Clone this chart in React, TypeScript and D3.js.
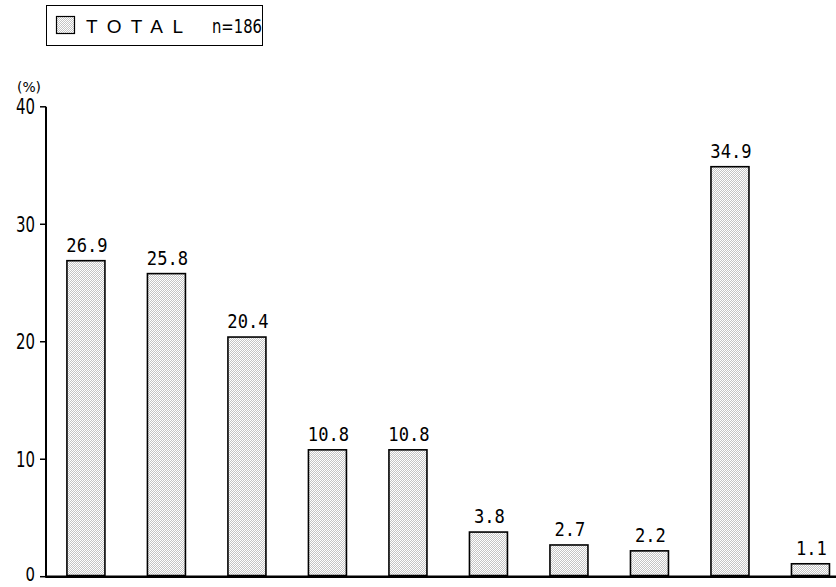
import React from "react";
import * as d3 from "d3";

const categories = ["c1", "c2", "c3", "c4", "c5", "c6", "c7", "c8", "c9", "c10"];
const values = [26.9, 25.8, 20.4, 10.8, 10.8, 3.8, 2.7, 2.2, 34.9, 1.1];
const valueLabels = ["26.9", "25.8", "20.4", "10.8", "10.8", "3.8", "2.7", "2.2", "34.9", "1.1"];
const yTicks = [0, 10, 20, 30, 40];
const legendLabel = "TOTAL";
const legendN = "n=186";
const yUnit = "(%)";

const W = 836;
const H = 587;

export default function App() {
  const y = d3.scaleLinear().domain([0, 40]).range([576.7, 106.8]);
  const x = d3
    .scaleBand<string>()
    .domain(categories)
    .range([46, 850.4])
    .paddingInner(0.528)
    .paddingOuter(0.26);
  const bw = x.bandwidth();
  const axisX = 46;
  const numFont = "'DejaVu Sans Mono', monospace";
  const tickFont = "'DejaVu Sans', sans-serif";

  return (
    <svg
      width={W}
      height={H}
      style={{ position: "absolute", left: 0, top: 0, background: "#fff" }}
    >
      <defs>
        <pattern id="chk" width="2" height="2" patternUnits="userSpaceOnUse">
          <rect width="2" height="2" fill="#ffffff" />
          <rect x="1" y="0" width="1" height="1" fill="#c4c4c4" />
          <rect x="0" y="1" width="1" height="1" fill="#c4c4c4" />
        </pattern>
      </defs>

      {/* legend */}
      <rect x={46.5} y={5.5} width={216} height={40} fill="#fff" stroke="#000" strokeWidth={1} />
      <rect x={56.5} y={16.5} width={18} height={17} fill="url(#chk)" stroke="#000" strokeWidth={1.2} />
      <text
        x={86}
        y={33}
        fontFamily="'Liberation Sans', Arial, sans-serif"
        fontSize={19}
        textLength={97}
        lengthAdjust="spacing"
        fill="#000"
      >
        {legendLabel}
      </text>
      <text
        x={212}
        y={33}
        fontFamily={tickFont}
        fontSize={20}
        textLength={50}
        lengthAdjust="spacingAndGlyphs"
        fill="#000"
      >
        {legendN}
      </text>

      {/* y unit */}
      <text
        x={29}
        y={92}
        textAnchor="middle"
        fontFamily={tickFont}
        fontSize={14}
        textLength={24}
        lengthAdjust="spacingAndGlyphs"
        fill="#000"
      >
        {yUnit}
      </text>

      {/* bars */}
      {values.map((v, i) => {
        const x0 = x(categories[i])!;
        const yt = y(v);
        return (
          <g key={categories[i]}>
            <rect
              x={x0}
              y={yt}
              width={bw}
              height={y(0) - yt}
              fill="url(#chk)"
              stroke="#000"
              strokeWidth={1.6}
            />
            <line x1={x0} x2={x0 + bw} y1={y(0) - 1} y2={y(0) - 1} stroke="#000" strokeWidth={2} />
            <text
              x={x0 + bw / 2 + 1}
              y={yt - 9}
              textAnchor="middle"
              fontFamily={numFont}
              fontSize={20}
              textLength={valueLabels[i].length * 10.3}
              lengthAdjust="spacingAndGlyphs"
              fill="#000"
            >
              {valueLabels[i]}
            </text>
          </g>
        );
      })}

      {/* y axis */}
      <line x1={axisX} x2={axisX} y1={y(40)} y2={y(0) + 1} stroke="#000" strokeWidth={2} />
      {yTicks.map((t) => (
        <g key={t}>
          <line x1={40} x2={axisX} y1={y(t)} y2={y(t)} stroke="#000" strokeWidth={1.5} />
          <text
            x={35}
            y={t === 0 ? 581 : y(t) + 7.5}
            textAnchor="end"
            fontFamily={tickFont}
            fontSize={t === 0 ? 19 : 21}
            textLength={String(t).length * 9.5}
            lengthAdjust="spacingAndGlyphs"
            fill="#000"
          >
            {t}
          </text>
        </g>
      ))}

      {/* x axis */}
      <line x1={axisX} x2={W} y1={y(0)} y2={y(0)} stroke="#000" strokeWidth={2.5} />
    </svg>
  );
}
